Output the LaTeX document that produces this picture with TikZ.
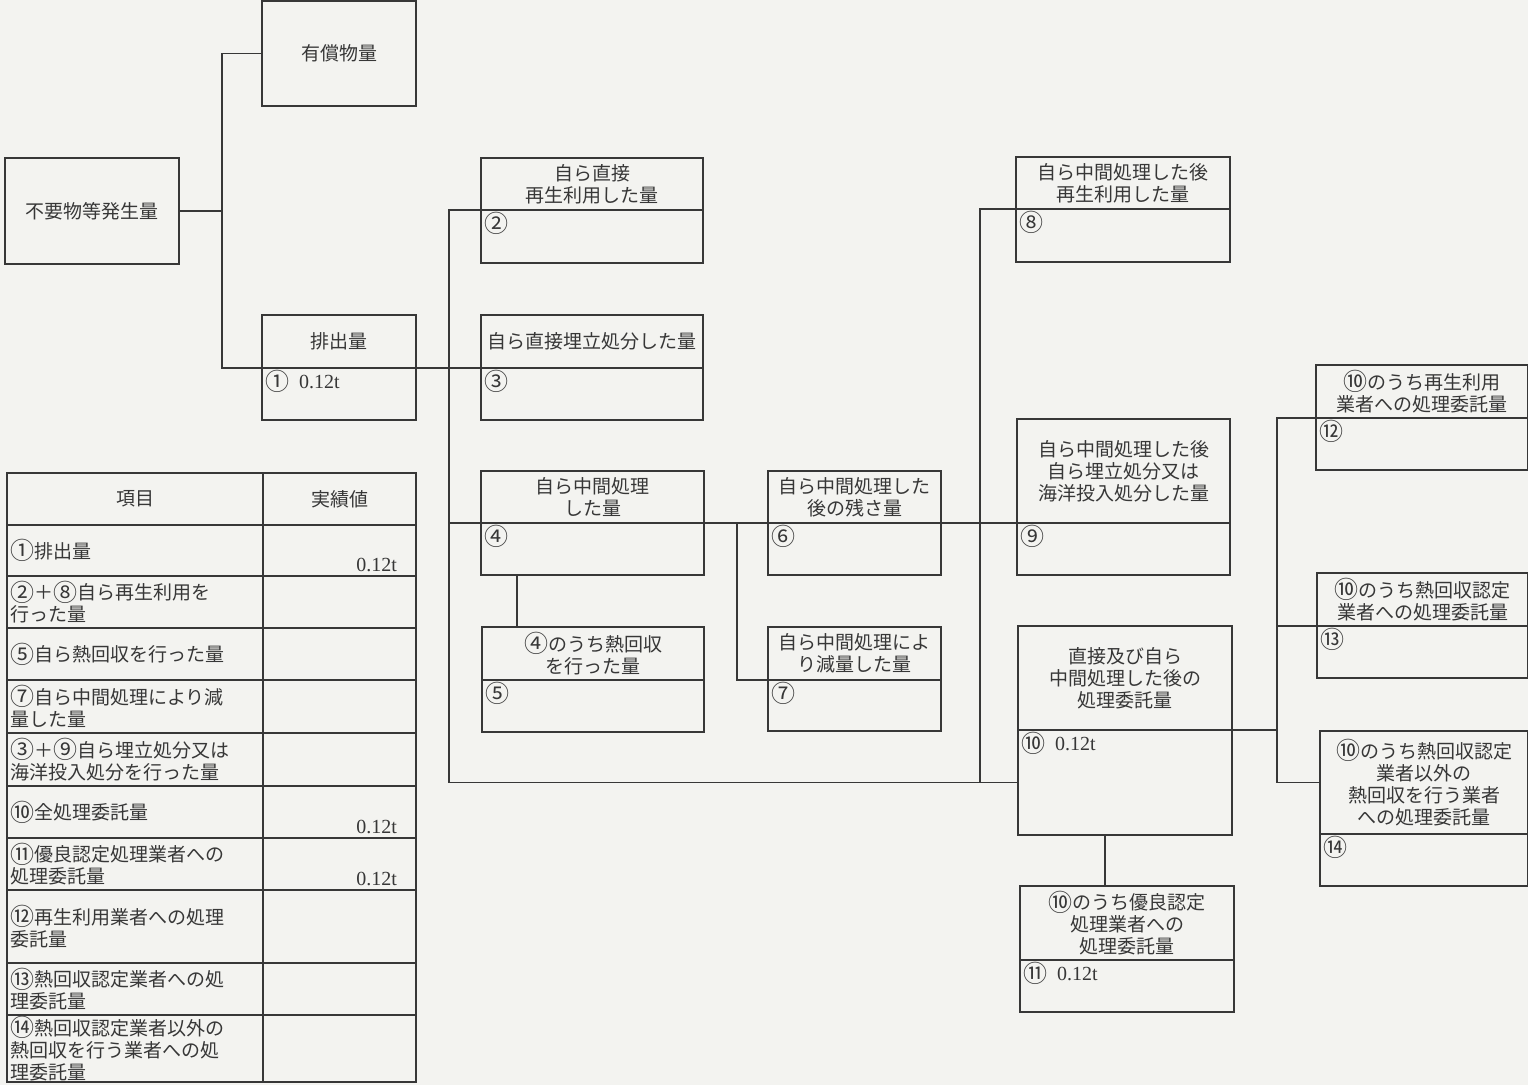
\documentclass[tikz,border=0pt]{standalone}
\usepackage{fontspec}
\setmainfont{Noto Sans CJK JP}
\newfontfamily\numfont{Liberation Serif}
\usepackage{tikz}
\definecolor{paper}{RGB}{243,243,240}
\definecolor{ink}{RGB}{55,55,55}
\def\amt{{\numfont\fontsize{20}{22}\selectfont 0.12t}}
\def\gap{\hspace{10pt}}
\def\cn#1{\raisebox{-1.5pt}{\fontsize{24}{22}\selectfont#1}}

\begin{document}
\begin{tikzpicture}[x=1pt,y=-1pt,color=ink,line width=1.3pt,
                font=\fontsize{19}{22}\selectfont,
                every node/.style={outer sep=0pt},
                ttl/.style={draw,anchor=north west,inner sep=3pt,align=center},
                valbox/.style={draw,anchor=north west,inner sep=0pt},
                num/.style={anchor=north west,inner xsep=3pt,inner ysep=2pt},
                amtlbl/.style={anchor=south east,inner sep=4pt,xshift=-15pt},
                cellL/.style={draw,anchor=north west,inner xsep=3pt,inner ysep=1pt,text width=250pt,align=left},
                cellR/.style={draw,anchor=north west,inner sep=0pt,minimum width=153pt}]
                \fill[paper] (0,0) rectangle (1528,1085);
                \useasboundingbox (0,0) rectangle (1528,1085);
                % left part
                \node[ttl,minimum width=174pt,minimum height=106pt] (src) at (5,158) {不要物等発生量};
                \node[ttl,minimum width=154pt,minimum height=105pt] (yuk) at (262,1) {有償物量};
                \node[ttl,minimum width=154pt,minimum height=53pt] (hait) at (262,315) {排出量};
                \node[valbox,minimum width=154pt,minimum height=52pt,label={[num]north west:\cn{①}\gap\amt}] (haiv) at (hait.south west) {};
                % direct
                \node[ttl,minimum width=222pt,minimum height=52pt] (b2t) at (481,158) {自ら直接\\再生利用した量};
                \node[valbox,minimum width=222pt,minimum height=53pt,label={[num]north west:\cn{②}}] (b2v) at (b2t.south west) {};
                \node[ttl,minimum width=222pt,minimum height=53pt] (b3t) at (481,315) {自ら直接埋立処分した量};
                \node[valbox,minimum width=222pt,minimum height=52pt,label={[num]north west:\cn{③}}] (b3v) at (b3t.south west) {};
                \node[ttl,minimum width=223pt,minimum height=52pt] (b4t) at (481,471) {自ら中間処理\\した量};
                \node[valbox,minimum width=223pt,minimum height=52pt,label={[num]north west:\cn{④}}] (b4v) at (b4t.south west) {};
                \node[ttl,minimum width=222pt,minimum height=53pt] (b5t) at (482,627) {\cn{④}のうち熱回収\\を行った量};
                \node[valbox,minimum width=222pt,minimum height=52pt,label={[num]north west:\cn{⑤}}] (b5v) at (b5t.south west) {};
                % intermediate
                \node[ttl,minimum width=173pt,minimum height=52pt] (b6t) at (768,471) {自ら中間処理した\\後の残さ量};
                \node[valbox,minimum width=173pt,minimum height=52pt,label={[num]north west:\cn{⑥}}] (b6v) at (b6t.south west) {};
                \node[ttl,minimum width=173pt,minimum height=53pt] (b7t) at (768,627) {自ら中間処理によ\\り減量した量};
                \node[valbox,minimum width=173pt,minimum height=51pt,label={[num]north west:\cn{⑦}}] (b7v) at (b7t.south west) {};
                \node[ttl,minimum width=214pt,minimum height=52pt] (b8t) at (1016,157) {自ら中間処理した後\\再生利用した量};
                \node[valbox,minimum width=214pt,minimum height=53pt,label={[num]north west:\cn{⑧}}] (b8v) at (b8t.south west) {};
                \node[ttl,minimum width=213pt,minimum height=104pt] (b9t) at (1017,419) {自ら中間処理した後\\自ら埋立処分又は\\海洋投入処分した量};
                \node[valbox,minimum width=213pt,minimum height=52pt,label={[num]north west:\cn{⑨}}] (b9v) at (b9t.south west) {};
                % consignment
                \node[ttl,minimum width=214pt,minimum height=104pt] (b10t) at (1018,626) {直接及び自ら\\中間処理した後の\\処理委託量};
                \node[valbox,minimum width=214pt,minimum height=105pt,label={[num]north west:\cn{⑩}\gap\amt}] (b10v) at (b10t.south west) {};
                \node[ttl,minimum width=214pt,minimum height=74pt] (b11t) at (1020,886) {\cn{⑩}のうち優良認定\\処理業者への\\処理委託量};
                \node[valbox,minimum width=214pt,minimum height=52pt,label={[num]north west:\cn{⑪}\gap\amt}] (b11v) at (b11t.south west) {};
                \node[ttl,minimum width=212pt,minimum height=53pt] (b12t) at (1316,365) {\cn{⑩}のうち再生利用\\業者への処理委託量};
                \node[valbox,minimum width=212pt,minimum height=52pt,label={[num]north west:\cn{⑫}}] (b12v) at (b12t.south west) {};
                \node[ttl,minimum width=211pt,minimum height=53pt] (b13t) at (1317,573) {\cn{⑩}のうち熱回収認定\\業者への処理委託量};
                \node[valbox,minimum width=211pt,minimum height=52pt,label={[num]north west:\cn{⑬}}] (b13v) at (b13t.south west) {};
                \node[ttl,minimum width=208pt,minimum height=103pt] (b14t) at (1320,731) {\cn{⑩}のうち熱回収認定\\業者以外の\\熱回収を行う業者\\への処理委託量};
                \node[valbox,minimum width=208pt,minimum height=52pt,label={[num]north west:\cn{⑭}}] (b14v) at (b14t.south west) {};
                % connectors
                \coordinate (j1) at (222,0);
                \coordinate (j2) at (449,0);
                \coordinate (j3) at (737,0);
                \coordinate (j4) at (980,0);
                \coordinate (j5) at (1277,0);
                \draw (src.east) -- (src.east -| j1);
                \draw (yuk.west) -| (j1 |- b3t.south west) -- (b3t.south west);
                \draw (b2t.south west) -| (j2 |- b10v.west) -- (b10v.west);
                \draw (j2 |- b4t.south west) -- (b9t.south west);
                \draw ([xshift=36pt]b4v.south west) -- ([xshift=35pt]b5t.north west);
                \draw (j3 |- b4t.south west) |- (b7t.south west);
                \draw (b8t.south west) -| (j4 |- b10v.west);
                \draw ([xshift=87pt]b10v.south west) -- ([xshift=85pt]b11t.north west);
                \draw (b10v.north east) -- (j5 |- b10v.north east);
                \draw (b12t.south west) -| (j5 |- b14t.west) -- (b14t.west);
                \draw (j5 |- b13t.south west) -- (b13t.south west);
                % table
                \node[cellL,align=center,minimum height=52pt] (h0a) at (7,473) {項目};
                \node[cellR,minimum height=52pt] (h0b) at (h0a.north east) {実績値};
                \node[cellL,minimum height=51pt] (r1a) at (h0a.south west) {\cn{①}排出量};
                \node[cellR,minimum height=51pt,label={[amtlbl]south east:\amt}] (r1b) at (r1a.north east) {};
                \node[cellL,minimum height=52pt] (r2a) at (r1a.south west) {\cn{②}＋\cn{⑧}自ら再生利用を\\行った量};
                \node[cellR,minimum height=52pt] (r2b) at (r2a.north east) {};
                \node[cellL,minimum height=52pt] (r3a) at (r2a.south west) {\cn{⑤}自ら熱回収を行った量};
                \node[cellR,minimum height=52pt] (r3b) at (r3a.north east) {};
                \node[cellL,minimum height=53pt] (r4a) at (r3a.south west) {\cn{⑦}自ら中間処理により減\\量した量};
                \node[cellR,minimum height=53pt] (r4b) at (r4a.north east) {};
                \node[cellL,minimum height=53pt] (r5a) at (r4a.south west) {\cn{③}＋\cn{⑨}自ら埋立処分又は\\海洋投入処分を行った量};
                \node[cellR,minimum height=53pt] (r5b) at (r5a.north east) {};
                \node[cellL,minimum height=52pt] (r6a) at (r5a.south west) {\cn{⑩}全処理委託量};
                \node[cellR,minimum height=52pt,label={[amtlbl]south east:\amt}] (r6b) at (r6a.north east) {};
                \node[cellL,minimum height=52pt] (r7a) at (r6a.south west) {\cn{⑪}優良認定処理業者への\\処理委託量};
                \node[cellR,minimum height=52pt,label={[amtlbl]south east:\amt}] (r7b) at (r7a.north east) {};
                \node[cellL,minimum height=73pt] (r8a) at (r7a.south west) {\cn{⑫}再生利用業者への処理\\委託量};
                \node[cellR,minimum height=73pt] (r8b) at (r8a.north east) {};
                \node[cellL,minimum height=52pt] (r9a) at (r8a.south west) {\cn{⑬}熱回収認定業者への処\\理委託量};
                \node[cellR,minimum height=52pt] (r9b) at (r9a.north east) {};
                \node[cellL,minimum height=67pt] (r10a) at (r9a.south west) {\cn{⑭}熱回収認定業者以外の\\熱回収を行う業者への処\\理委託量};
                \node[cellR,minimum height=67pt] (r10b) at (r10a.north east) {};
            \end{tikzpicture}
\end{document}
